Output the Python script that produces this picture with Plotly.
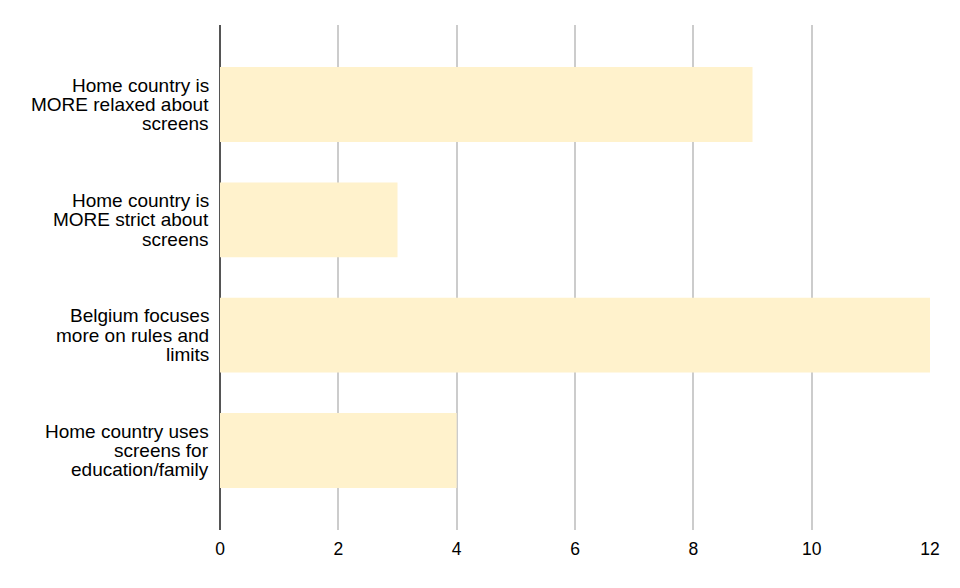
import plotly.graph_objects as go

categories = [
    "Home country is MORE relaxed about screens",
    "Home country is MORE strict about screens",
    "Belgium focuses more on rules and limits",
    "Home country uses screens for education/family",
]
label_lines = [
    ["Home country is", "MORE relaxed about", "screens"],
    ["Home country is", "MORE strict about", "screens"],
    ["Belgium focuses", "more on rules and", "limits"],
    ["Home country uses", "screens for", "education/family"],
]
counts = [9, 3, 12, 4]

fig = go.Figure(
    go.Bar(
        x=counts,
        y=categories,
        orientation="h",
        marker=dict(color="#FFF2CC", line=dict(width=0)),
        width=0.65,
    )
)

# category labels, one annotation per line so the line spacing stays tight
for cat, lines in zip(categories, label_lines):
    for j, line in enumerate(lines):
        fig.add_annotation(
            x=0,
            y=cat,
            xref="x",
            yref="y",
            text=line,
            showarrow=False,
            xanchor="right",
            yanchor="middle",
            xshift=-9,
            yshift=(1 - j) * 19.2,
            font=dict(size=19, color="#000000"),
        )

fig.update_layout(
    width=960,
    height=588,
    margin=dict(l=212, r=38, t=17, b=66),
    plot_bgcolor="white",
    paper_bgcolor="white",
    font=dict(family="Liberation Sans, Arial", size=17.5, color="#000000"),
    showlegend=False,
)
fig.update_xaxes(
    range=[0, 12],
    dtick=2,
    showgrid=True,
    gridcolor="#CCCCCC",
    gridwidth=1.5,
    zeroline=True,
    zerolinecolor="#555555",
    zerolinewidth=1.5,
    showline=False,
    ticks="",
    ticklabelstandoff=6,
    tickfont=dict(size=17.5),
)
fig.update_yaxes(
    autorange=False,
    range=[3.69, -0.69],
    showgrid=False,
    showline=False,
    showticklabels=False,
    ticks="",
)

fig.write_html("out.html")
